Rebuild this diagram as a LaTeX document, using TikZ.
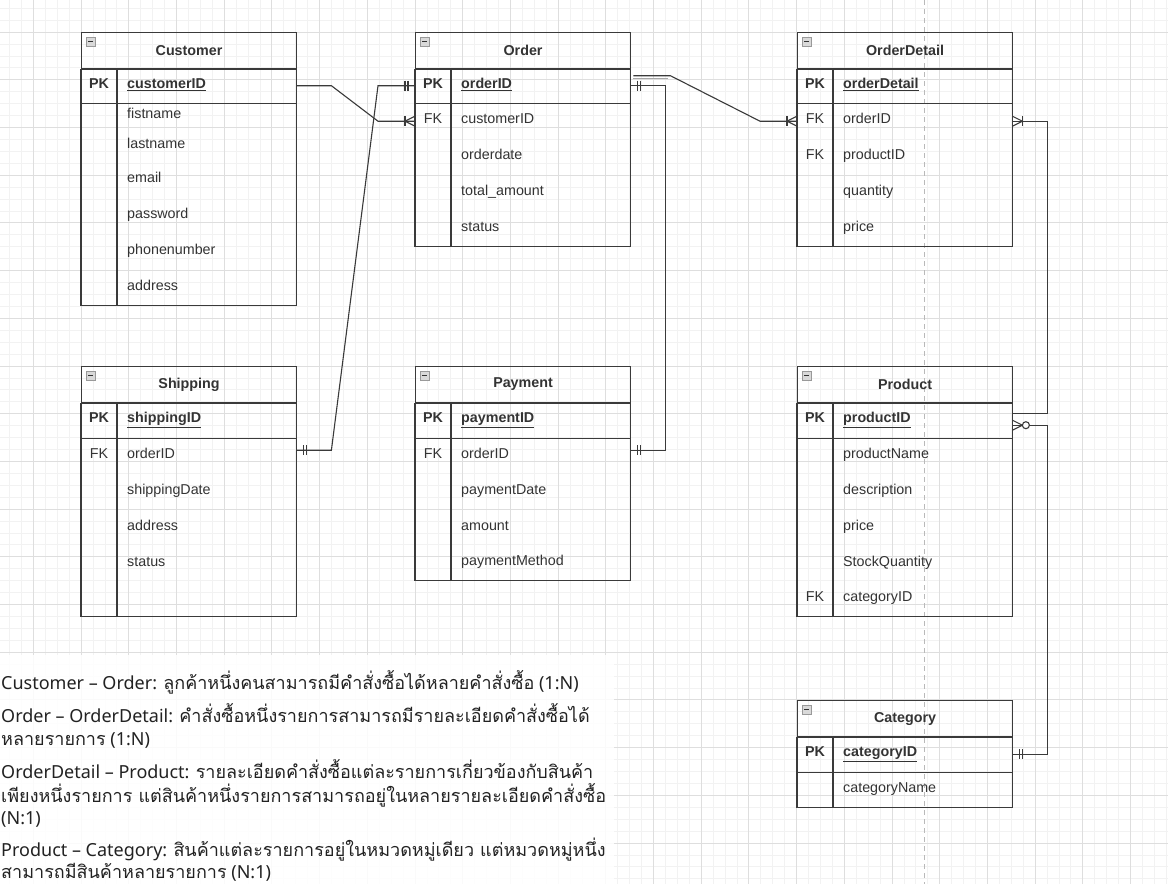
\documentclass[tikz,border=0pt]{standalone}
\usepackage{fontspec}
\setmainfont{Liberation Sans}
\newfontfamily\notefont{Noto Sans}
\newfontfamily\thaifont[Script=Thai]{Loma}
\usetikzlibrary{calc}
\definecolor{ink}{HTML}{333333}
\definecolor{noteink}{HTML}{222222}
\definecolor{edgec}{HTML}{3A3A3A}
\definecolor{gridminor}{HTML}{F2F2F2}
\definecolor{gridmajor}{HTML}{DEDEDE}
\tikzset{
  frame/.style={draw=edgec, line width=1.1pt},
  titlebox/.style={draw=edgec, line width=1.1pt, minimum width=215pt, minimum height=36pt,
    inner sep=0pt, text=ink, font=\bfseries\fontsize{14.3}{16}\selectfont},
  rowbox/.style={draw=none, minimum width=215pt, inner sep=0pt},
  keytxt/.style={inner sep=0pt, anchor=mid, text=ink, font=\fontsize{14.3}{16}\selectfont},
  attrtxt/.style={inner sep=0pt, anchor=mid west, text=ink, font=\fontsize{14.3}{16}\selectfont},
  iconst/.style={draw=gray!80, fill=gray!30, line width=0.6pt},
  conn/.style={draw=edgec, line width=1.1pt},
  notes/.style={anchor=base west, inner sep=0pt, text=noteink, font=\notefont\fontsize{18}{22}\selectfont},
}
\newcommand\ertitle[4]{%
  \node[titlebox, anchor=north west] (#1) at (#2,#3) {#4};
  \draw[iconst] ($(#1.north west)+(5,5)$) rectangle ++(9,9);
  \draw[ink, line width=0.8pt] ($(#1.north west)+(7,9.5)$) -- ++(5,0);
}
\newcommand\errow[6]{%
  \node[rowbox, minimum height=#4, anchor=north west] (#1) at (#2,#3) {};
  \node[keytxt] at ($(#1.west)+(18,0)$) {#5};
  \node[attrtxt] at ($(#1.west)+(46,0)$) {#6};
}
\newcommand\pkname[1]{\textbf{\underline{#1}}}
% table frame: title node, pk row node, last row node
\newcommand\erframe[3]{%
  \draw[frame] (#1.south west) rectangle (#3.south east);
  \draw[frame] (#2.south west) -- (#2.south east);
  \draw[frame] ($(#2.north west)+(36,0)$) -- ($(#3.south west)+(36,0)$);
}
\newcommand\mone[2]{%
  \draw[conn] ($(#1)+(#2*7,-5)$) -- ++(0,10);
  \draw[conn] ($(#1)+(#2*10,-5)$) -- ++(0,10);
}
\newcommand\mmany[2]{%
  \draw[conn] ($(#1)+(0,-5)$) -- ($(#1)+(#2*10,0)$) -- ($(#1)+(0,5)$);
  \draw[conn] ($(#1)+(#2*10,-5)$) -- ++(0,10);
}
\newcommand\mzmany[2]{%
  \draw[conn] ($(#1)+(0,-5)$) -- ($(#1)+(#2*10,0)$) -- ($(#1)+(0,5)$);
  \draw[conn, fill=white] ($(#1)+(#2*13.5,0)$) circle (3.5pt);
}
\begin{document}
\begin{tikzpicture}[x=1pt, y=-1pt]
\useasboundingbox (0,0) rectangle (1168,884);
\clip (0,0) rectangle (1168,884);
\fill[white] (0,0) rectangle (1168,884);
% grid
\foreach \i in {0,...,99} {
  \draw[gridminor, line width=0.6pt] ({-2.5+11.925*\i},0) -- ++(0,884);
}
\foreach \i in {0,...,75} {
  \draw[gridminor, line width=0.6pt] (0,{-3.8+11.925*\i}) -- ++(1168,0);
}
\foreach \i in {0,...,24} {
  \draw[gridmajor, line width=0.7pt] ({33.3+47.7*\i},0) -- ++(0,884);
}
\foreach \i in {-1,...,18} {
  \draw[gridmajor, line width=0.7pt] (0,{32+47.7*\i}) -- ++(1168,0);
}
\draw[gray!55, line width=0.8pt, dash pattern=on 5pt off 4pt] (924,0) -- (924,884);

% ---------- Customer
\ertitle{cT}{81}{32}{Customer}
\errow{cPK}{81}{68}{35}{\textbf{PK}}{\pkname{customerID}}
\errow{c1}{81}{103}{26}{}{fistname}
\errow{c2}{81}{129}{33}{}{lastname}
\errow{c3}{81}{162}{36}{}{email}
\errow{c4}{81}{198}{36}{}{password}
\errow{c5}{81}{234}{36}{}{phonenumber}
\errow{c6}{81}{270}{35}{}{address}
\erframe{cT}{cPK}{c6}

% ---------- Order
\ertitle{oT}{415}{32}{Order}
\errow{oPK}{415}{68}{35}{\textbf{PK}}{\pkname{orderID}}
\errow{oFK}{415}{103}{36}{FK}{customerID}
\errow{o2}{415}{139}{36}{}{orderdate}
\errow{o3}{415}{175}{36}{}{total\_amount}
\errow{o4}{415}{211}{35}{}{status}
\erframe{oT}{oPK}{o4}

% ---------- OrderDetail
\ertitle{dT}{797}{32}{OrderDetail}
\errow{dPK}{797}{68}{35}{\textbf{PK}}{\pkname{orderDetail}}
\errow{dFK1}{797}{103}{36}{FK}{orderID}
\errow{dFK2}{797}{139}{36}{FK}{productID}
\errow{d3}{797}{175}{36}{}{quantity}
\errow{d4}{797}{211}{35}{}{price}
\erframe{dT}{dPK}{d4}

% ---------- Shipping
\ertitle{sT}{81}{366}{Shipping}
\errow{sPK}{81}{402}{36}{\textbf{PK}}{\pkname{shippingID}}
\errow{sFK}{81}{438}{36}{FK}{orderID}
\errow{s2}{81}{474}{36}{}{shippingDate}
\errow{s3}{81}{510}{36}{}{address}
\errow{s4}{81}{546}{36}{}{status}
\errow{s5}{81}{582}{34}{}{}
\erframe{sT}{sPK}{s5}

% ---------- Payment
\ertitle{pT}{415}{366}{Payment}
\errow{pPK}{415}{402}{36}{\textbf{PK}}{\pkname{paymentID}}
\errow{pFK}{415}{438}{36}{FK}{orderID}
\errow{p2}{415}{474}{36}{}{paymentDate}
\errow{p3}{415}{510}{36}{}{amount}
\errow{p4}{415}{546}{34}{}{paymentMethod}
\erframe{pT}{pPK}{p4}

% ---------- Product
\ertitle{rT}{797}{366}{Product}
\errow{rPK}{797}{402}{36}{\textbf{PK}}{\pkname{productID}}
\errow{r1}{797}{438}{36}{}{productName}
\errow{r2}{797}{474}{36}{}{description}
\errow{r3}{797}{510}{36}{}{price}
\errow{r4}{797}{546}{36}{}{StockQuantity}
\errow{rFK}{797}{582}{34}{FK}{categoryID}
\erframe{rT}{rPK}{rFK}

% ---------- Category
\ertitle{kT}{797}{700}{Category}
\errow{kPK}{797}{736}{36}{\textbf{PK}}{\pkname{categoryID}}
\errow{k1}{797}{772}{35}{}{categoryName}
\erframe{kT}{kPK}{k1}

% ---------- connectors
% Customer -> Order
\draw[conn] (cPK.east) -- ++(35,0) -- ($(oFK.west)+(-37,0)$) -- (oFK.west);
\mmany{oFK.west}{-1}
% Shipping -> Order
\coordinate (sFKa) at ($(sFK.east)+(0,-6)$);
\draw[conn] (sFKa) -- ++(35,0) -- ($(oPK.west)+(-37,0)$) -- (oPK.west);
\mone{sFKa}{1}
\mone{oPK.west}{-1}
% Payment -> Order
\coordinate (pFKa) at ($(pFK.east)+(0,-6)$);
\draw[conn] (pFKa) -- ++(35,0) |- (oPK.east);
\mone{pFKa}{1}
\mone{oPK.east}{1}
% Order -> OrderDetail
\coordinate (oOut) at ($(oPK.east)+(3,-10)$);
\draw[conn] (oOut) -- ++(37,0) -- ($(dFK1.west)+(-37,0)$) -- (dFK1.west);
\draw[conn, draw=gray!70] ($(oOut)+(0,2.5)$) -- ++(35,0);
\mmany{dFK1.west}{-1}
% OrderDetail -> Product
\coordinate (rIn1) at ($(rPK.east)+(0,-7)$);
\draw[conn] (dFK1.east) -- ++(35,0) |- (rIn1);
\mmany{dFK1.east}{1}
% Category -> Product
\coordinate (rIn2) at ($(rPK.east)+(0,5)$);
\draw[conn] (kPK.east) -- ++(35,0) |- (rIn2);
\mone{kPK.east}{1}
\mzmany{rIn2}{1}

% ---------- notes
\fill[white, opacity=0.85] (0,655) rectangle (614,884);
\node[notes] (n1) at (1,689) {Customer – Order: {\thaifont ลูกค้าหนึ่งคนสามารถมีคำสั่งซื้อได้หลายคำสั่งซื้อ} (1:N)};
\node[notes] (n2) at (1,722) {Order – OrderDetail: {\thaifont คำสั่งซื้อหนึ่งรายการสามารถมีรายละเอียดคำสั่งซื้อได้}};
\node[notes] (n3) at (1,745) {{\thaifont หลายรายการ} (1:N)};
\node[notes] (n4) at (1,778) {OrderDetail – Product: {\thaifont รายละเอียดคำสั่งซื้อแต่ละรายการเกี่ยวข้องกับสินค้า}};
\node[notes] (n5) at (1,802) {{\thaifont เพียงหนึ่งรายการ แต่สินค้าหนึ่งรายการสามารถอยู่ในหลายรายละเอียดคำสั่งซื้อ}};
\node[notes] (n6) at (1,824) {(N:1)};
\node[notes] (n7) at (1,856) {Product – Category: {\thaifont สินค้าแต่ละรายการอยู่ในหมวดหมู่เดียว แต่หมวดหมู่หนึ่ง}};
\node[notes] (n8) at (1,878) {{\thaifont สามารถมีสินค้าหลายรายการ} (N:1)};
\end{tikzpicture}
\end{document}
